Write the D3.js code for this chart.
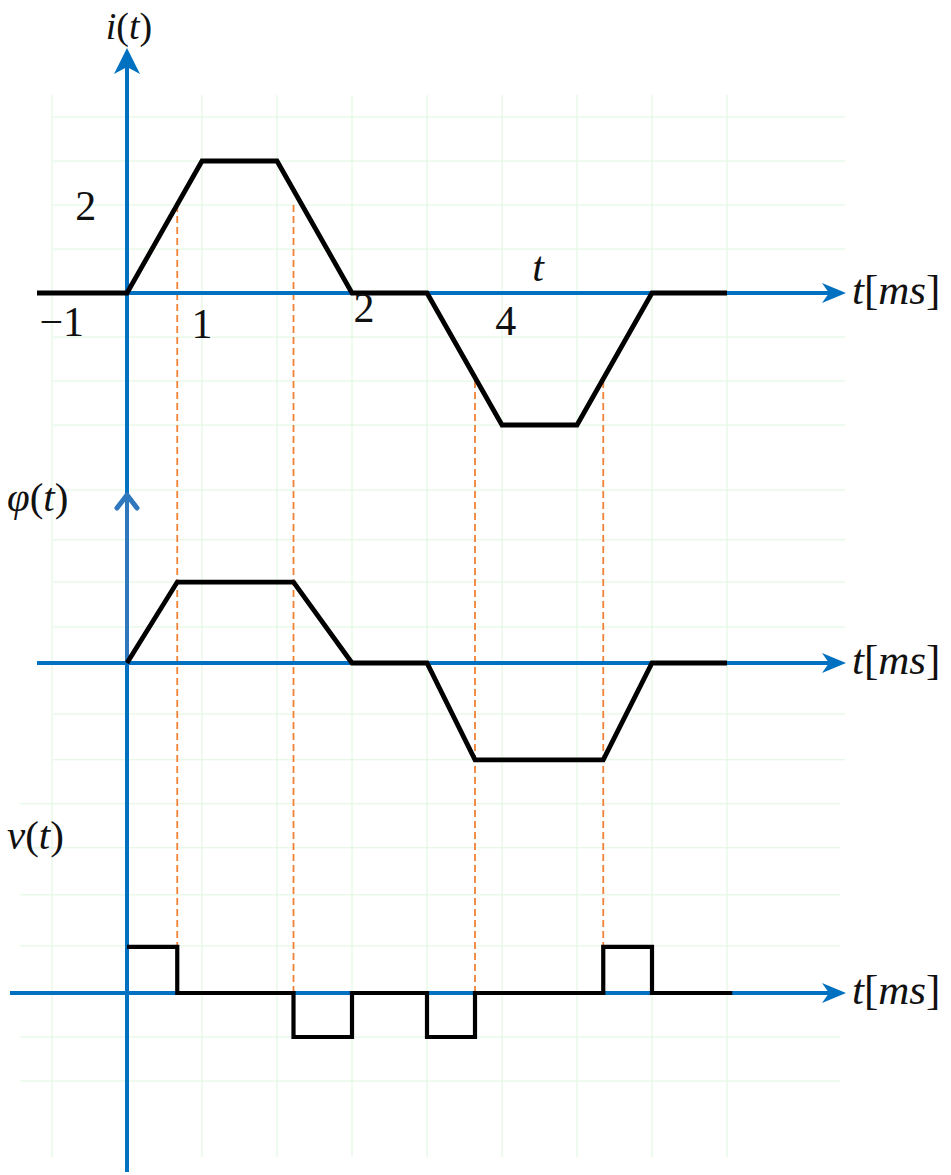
<!DOCTYPE html>
<html>
<head>
<meta charset="utf-8">
<script src="https://cdn.jsdelivr.net/npm/d3@7/dist/d3.min.js"></script>
<style>
  html, body { margin: 0; padding: 0; background: #ffffff; }
  svg { display: block; }
  text { font-family: "Liberation Serif", "DejaVu Serif", serif; fill: #111; }
</style>
</head>
<body>
<svg id="chart" width="951" height="1175"></svg>
<script>
// Current i(t) [trapezoid pulses]
const iTimes  = [-1.2, 0, 1, 2, 3, 4, 5, 6, 7, 8];
const iValues = [0, 0, 3, 3, 0, 0, -3, -3, 0, 0];

// Flux phi(t)
const phiTimes  = [0, 0.67, 2.22, 3.0, 4.0, 4.64, 6.35, 7.0, 8.0];
const phiValues = [0, 1.84, 1.84, 0, 0, -2.2, -2.2, 0, 0];

// Voltage v(t) as a step function (value holds until next time)
const vTimes  = [0, 0.67, 2.22, 3.0, 4.0, 4.64, 6.35, 7.0, 8.07];
const vValues = [1.05, 0, -1, 0, -1, 0, 1.05, 0, 0];

// Dashed projection guides: time, start level on i(t), end level on v(t)
const guideTimes  = [0.67, 2.22, 4.64, 6.35];
const guideIFrom  = [2, 2, -2, -2];
const guideVTo    = [1.05, 0, 0, 1.05];

// Labels along the time axis of i(t)
const tickTexts  = ["−1", "1", "2", "4"];
const tickTimes  = [-0.87, 1, 3.16, 5.05];
const tickLevels = [-0.97, -1.03, -0.65, -0.96];

// Grid
const gridTimes  = [-1, 1, 2, 3, 4, 5, 6, 7, 8];
const gridI      = [4, 3, 2, 1, -1, -2, -3];
const gridPhi    = [3.93, 2.8, 1.84, 0.82, -1.16, -2.2];
const gridV      = [4.3, 3.3, 2.23, 1.07, -1, -2];

const svg = d3.select("#chart");
const AXIS = "#0070C0";
const GRID = "#dff6df";
const GUIDE = "#ef8236";

const x = d3.scaleLinear().domain([-1, 8]).range([52, 727]);
const yI = d3.scaleLinear().domain([-3, 3]).range([425, 161]);
const yPhi = d3.scaleLinear().domain([0, 1]).range([663, 619]);
const yV = d3.scaleLinear().domain([0, 1]).range([993, 949]);

// ---- grid ----
const grid = svg.append("g");
grid.selectAll("line.gv").data(gridTimes).join("line")
  .attr("x1", d => x(d)).attr("x2", d => x(d))
  .attr("y1", 95).attr("y2", 1157)
  .attr("stroke", GRID).attr("stroke-width", 1);
grid.selectAll("line.gi").data(gridI).join("line")
  .attr("x1", 53).attr("x2", 845)
  .attr("y1", d => yI(d)).attr("y2", d => yI(d))
  .attr("stroke", GRID);
grid.selectAll("line.gp").data(gridPhi).join("line")
  .attr("x1", 53).attr("x2", 845)
  .attr("y1", d => yPhi(d)).attr("y2", d => yPhi(d))
  .attr("stroke", GRID);
grid.selectAll("line.gvv").data(gridV).join("line")
  .attr("x1", 20).attr("x2", 840)
  .attr("y1", d => yV(d)).attr("y2", d => yV(d))
  .attr("stroke", GRID);

// ---- dashed guides ----
svg.append("g").selectAll("line").data(guideTimes).join("line")
  .attr("x1", d => x(d)).attr("x2", d => x(d))
  .attr("y1", (d, k) => yI(guideIFrom[k]))
  .attr("y2", (d, k) => yV(guideVTo[k]))
  .attr("stroke", GUIDE).attr("stroke-width", 1.8)
  .attr("stroke-dasharray", "7,4");

// ---- axes ----
const axes = svg.append("g");
function hArrow(y0, xStart) {
  const tip = 846;
  axes.append("line").attr("x1", xStart).attr("x2", tip - 12)
    .attr("y1", y0).attr("y2", y0)
    .attr("stroke", AXIS).attr("stroke-width", 4);
  axes.append("path")
    .attr("d", `M${tip},${y0} L${tip - 24},${y0 - 10} L${tip - 17},${y0} L${tip - 24},${y0 + 10} Z`)
    .attr("fill", AXIS);
}
hArrow(yI(0), 37);
hArrow(yPhi(0), 37);
hArrow(yV(0), 10);

// main vertical axis
axes.append("line").attr("x1", x(0)).attr("x2", x(0))
  .attr("y1", 1172).attr("y2", 62)
  .attr("stroke", AXIS).attr("stroke-width", 4);
axes.append("path")
  .attr("d", `M${x(0)},48 L${x(0) + 13},74 L${x(0)},67 L${x(0) - 13},74 Z`)
  .attr("fill", AXIS);

// phi(t) axis arrow overlay
axes.append("line").attr("x1", x(0)).attr("x2", x(0))
  .attr("y1", yPhi(0)).attr("y2", 495)
  .attr("stroke", "#2f78bd").attr("stroke-width", 4);
axes.append("path")
  .attr("d", `M${x(0) - 10},508 L${x(0)},495 L${x(0) + 10},508`)
  .attr("fill", "none").attr("stroke", "#2f78bd")
  .attr("stroke-width", 5).attr("stroke-linecap", "round").attr("stroke-linejoin", "round");

// ---- waveforms ----
const waves = svg.append("g").attr("fill", "none").attr("stroke", "#000")
  .attr("stroke-linejoin", "miter");

waves.append("path")
  .attr("d", d3.line().x(d => x(d[0])).y(d => yI(d[1]))(d3.zip(iTimes, iValues)))
  .attr("stroke-width", 4.8);

waves.append("path")
  .attr("d", d3.line().x(d => x(d[0])).y(d => yPhi(d[1]))(d3.zip(phiTimes, phiValues)))
  .attr("stroke-width", 4.8);

waves.append("path")
  .attr("d", d3.line().curve(d3.curveStepAfter).x(d => x(d[0])).y(d => yV(d[1]))(d3.zip(vTimes, vValues)))
  .attr("stroke-width", 4.2);

// ---- labels ----
const labels = svg.append("g");
function funcLabel(tx, ty, letter, size) {
  const t = labels.append("text").attr("x", tx).attr("y", ty).attr("font-size", size);
  t.append("tspan").attr("font-style", "italic").text(letter);
  t.append("tspan").text("(");
  t.append("tspan").attr("font-style", "italic").text("t");
  t.append("tspan").text(")");
  return t;
}
funcLabel(x(0) + 2, 39, "i", 38).attr("text-anchor", "middle");
funcLabel(7, 511, "φ", 41);
funcLabel(7, 849, "v", 41);

function axisName(y0) {
  const t = labels.append("text").attr("x", 852).attr("y", y0 + 11).attr("font-size", 43);
  t.append("tspan").attr("font-style", "italic").text("t");
  t.append("tspan").text("[");
  t.append("tspan").attr("font-style", "italic").text("ms");
  t.append("tspan").text("]");
}
axisName(yI(0));
axisName(yPhi(0));
axisName(yV(0));

labels.selectAll("text.tick").data(tickTexts).join("text")
  .attr("x", (d, k) => x(tickTimes[k]))
  .attr("y", (d, k) => yI(tickLevels[k]))
  .attr("text-anchor", "middle").attr("font-size", 42)
  .text(d => d);

// level label on the i(t) axis
labels.append("text").attr("x", x(-0.55)).attr("y", yI(2) + 15)
  .attr("text-anchor", "middle").attr("font-size", 42).text("2");

// time symbol above the i(t) axis
labels.append("text").attr("x", x(5.48)).attr("y", yI(0.27))
  .attr("text-anchor", "middle").attr("font-size", 42).attr("font-style", "italic").text("t");
</script>
</body>
</html>
